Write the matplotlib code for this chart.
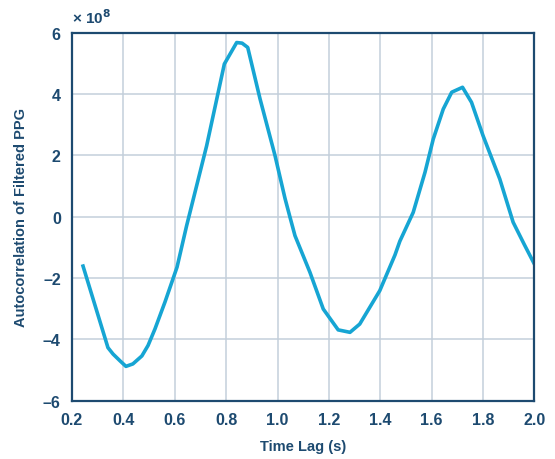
import numpy as np
from matplotlib import pyplot as plt

# time lag (s) and autocorrelation (x 1e8)
lag = [0.243, 0.34, 0.36, 0.387, 0.41, 0.437, 0.472, 0.496, 0.523, 0.562, 0.609,
       0.646, 0.724, 0.793, 0.841, 0.862, 0.884, 0.932, 0.99, 1.029, 1.048, 1.068,
       1.126, 1.178, 1.236, 1.282, 1.32, 1.398, 1.457, 1.476, 1.528, 1.574, 1.606,
       1.645, 1.678, 1.72, 1.755, 1.80, 1.865, 1.917, 1.96, 2.0]
acorr = [-1.61, -4.27, -4.48, -4.7, -4.88, -4.8, -4.54, -4.2, -3.66, -2.78, -1.64,
         -0.3, 2.31, 4.98, 5.68, 5.66, 5.52, 3.84, 2.0, 0.6, 0.0, -0.62,
         -1.81, -3.01, -3.69, -3.77, -3.5, -2.41, -1.25, -0.8, 0.14, 1.45, 2.53,
         3.51, 4.06, 4.22, 3.73, 2.64, 1.23, -0.18, -0.9, -1.55]

xticks = [0.2, 0.4, 0.6, 0.8, 1.0, 1.2, 1.4, 1.6, 1.8, 2.0]
yticks = [-6, -4, -2, 0, 2, 4, 6]

navy = '#1d4a70'
plt.rcParams['font.family'] = ['Liberation Sans', 'DejaVu Sans']
plt.rcParams['font.weight'] = 'bold'

fig = plt.figure(figsize=(5.55, 4.6), dpi=100)
ax = fig.add_axes([0.1297, 0.1267, 0.8333, 0.80])

ax.plot(lag, acorr, color='#16a5d3', lw=2.6, solid_joinstyle='round')

ax.set_xlim(0.2, 2.0)
ax.set_ylim(-6, 6)
ax.set_xticks(xticks)
ax.set_xticklabels(['%.1f' % t for t in xticks])
ax.set_yticks(yticks)
ax.set_yticklabels([str(t).replace('-', '\u2013') for t in yticks])
ax.grid(True, color='#c3cfdb', lw=1.1)
ax.set_axisbelow(True)
ax.tick_params(length=0, pad=8, labelsize=11.5, labelcolor=navy)
for s in ax.spines.values():
    s.set_color(navy)
    s.set_linewidth(1.6)

ax.set_xlabel('Time Lag (s)', fontsize=10.5, color=navy, fontweight='bold', labelpad=9)
ax.set_ylabel('Autocorrelation of Filtered PPG', fontsize=10.5, color=navy,
              fontweight='bold', labelpad=11)
ax.text(0.0, 1.018, '\u00d7 10$^{\\mathbf{8}}$', transform=ax.transAxes,
        fontsize=11, color=navy, fontweight='bold', va='bottom', ha='left')

fig.savefig('out.png', dpi=100)
